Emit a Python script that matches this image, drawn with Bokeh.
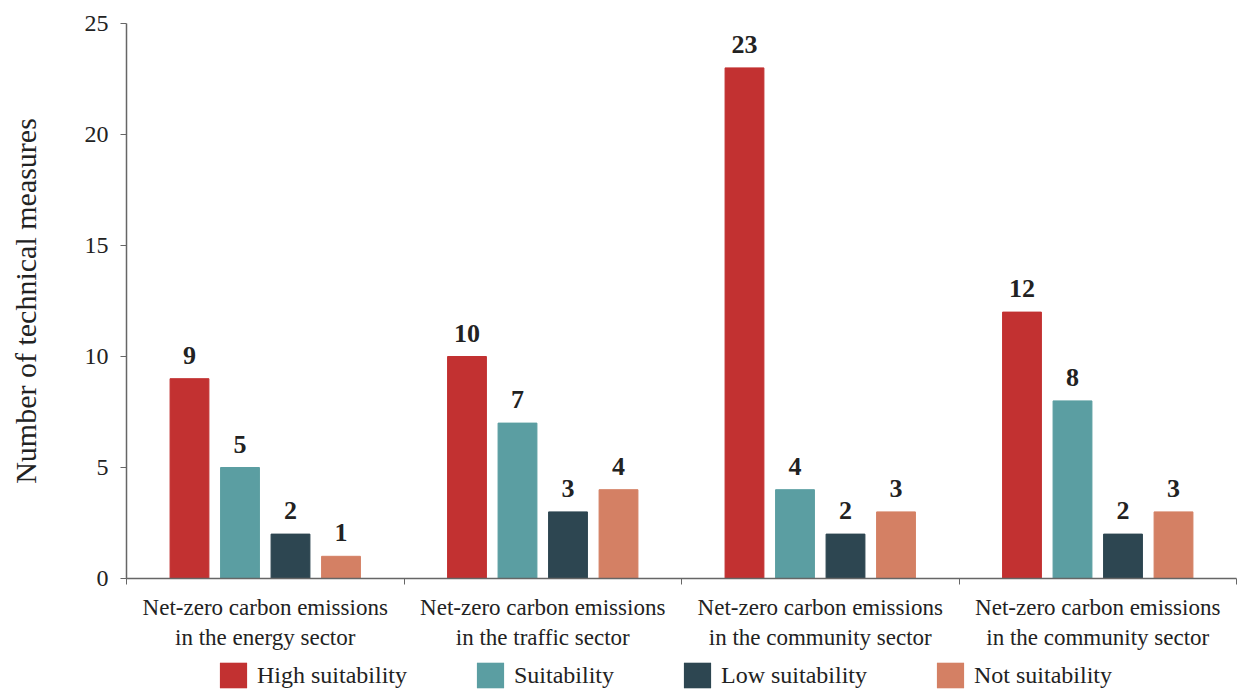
from bokeh.plotting import figure
from bokeh.layouts import column
from bokeh.models import ColumnDataSource, FixedTicker, Legend, LegendItem
from bokeh.transform import dodge
from bokeh.core.properties import value
from bokeh.embed import file_html
from bokeh.resources import INLINE

sectors = [
    "Net-zero carbon emissions\nin the energy sector",
    "Net-zero carbon emissions\nin the traffic sector",
    "Net-zero carbon emissions\nin the community sector",
    "Net-zero carbon emissions\nin the community sector",
]
series_names = ["High suitability", "Suitability", "Low suitability", "Not suitability"]
high = [9, 10, 23, 12]
suit = [5, 7, 4, 8]
low = [2, 3, 2, 2]
notsuit = [1, 4, 3, 3]
colors = ["#C23131", "#5B9EA2", "#2D4651", "#D48064"]
y_ticks = [0, 5, 10, 15, 20, 25]

FONT = "Liberation Serif"
centers = [i + 0.5 for i in range(len(sectors))]
src = ColumnDataSource(dict(x=centers, high=high, suit=suit, low=low, notsuit=notsuit,
                            high_t=[str(v) for v in high], suit_t=[str(v) for v in suit],
                            low_t=[str(v) for v in low], notsuit_t=[str(v) for v in notsuit]))

p = figure(width=1238, height=655, x_range=(0, len(sectors)), y_range=(0, 25),
           output_backend="svg", toolbar_location=None,
           min_border_left=126, min_border_right=2, min_border_top=23, min_border_bottom=77)
p.grid.visible = False
p.outline_line_color = None

keys = ["high", "suit", "low", "notsuit"]
offsets = [-0.273, -0.091, 0.091, 0.273]
for k, off, c in zip(keys, offsets, colors):
    p.vbar(x=dodge("x", off), top=k, width=0.14, source=src, fill_color=c, line_color=c)
    p.text(x=dodge("x", off), y=k, text=k + "_t", source=src, text_align="center",
           text_baseline="bottom", y_offset=-15, text_font=value(FONT), text_font_style="bold",
           text_font_size="26px", text_color="#222222")

# x axis
xa = p.xaxis[0]
xa.ticker = FixedTicker(ticks=centers, minor_ticks=list(range(len(sectors) + 1)))
xa.major_label_overrides = {c: s for c, s in zip(centers, sectors)}
xa.major_tick_line_color = None
xa.minor_tick_line_color = "#666666"
xa.minor_tick_out = 6
xa.minor_tick_in = 0
xa.axis_line_color = "#666666"
xa.axis_line_width = 1.5
xa.major_label_text_font = FONT
xa.major_label_text_font_size = "23px"
xa.major_label_text_color = "#222222"
xa.major_label_standoff = 10

ya = p.yaxis[0]
ya.ticker = FixedTicker(ticks=y_ticks)
ya.minor_tick_line_color = None
ya.major_tick_out = 6
ya.major_tick_in = 0
ya.major_tick_line_color = "#666666"
ya.axis_line_color = "#666666"
ya.axis_line_width = 1.5
ya.major_label_text_font = FONT
ya.major_label_text_font_size = "24px"
ya.major_label_text_color = "#222222"
ya.major_label_standoff = 12
ya.axis_label = "Number of technical measures"
ya.axis_label_text_font = FONT
ya.axis_label_text_font_style = "normal"
ya.axis_label_text_font_size = "30px"
ya.axis_label_text_color = "#222222"
ya.axis_label_standoff = 40

# legend strip
p2 = figure(width=1238, height=36, x_range=(0, len(sectors)), y_range=(-2, -1), output_backend="svg",
            toolbar_location=None, x_axis_location=None, y_axis_location=None,
            min_border=0)
p2.grid.visible = False
p2.outline_line_color = None
items = []
for k, name, c in zip(keys, series_names, colors):
    # zero-size bars outside the view: they only provide the legend swatch
    r = p2.vbar(x="x", top=k, bottom=k, width=0, source=src, fill_color=c, line_color=None)
    items.append(LegendItem(label=name, renderers=[r]))
legend = Legend(items=items, orientation="horizontal", location=(90, 0),
                label_text_font=FONT, label_text_font_size="24px", label_text_color="#222222",
                glyph_width=34, glyph_height=32, spacing=66, label_standoff=7,
                border_line_color=None, background_fill_alpha=0, padding=0, margin=0)
p2.add_layout(legend, "center")

open("out.html", "w").write(file_html(column(p, p2), INLINE))
